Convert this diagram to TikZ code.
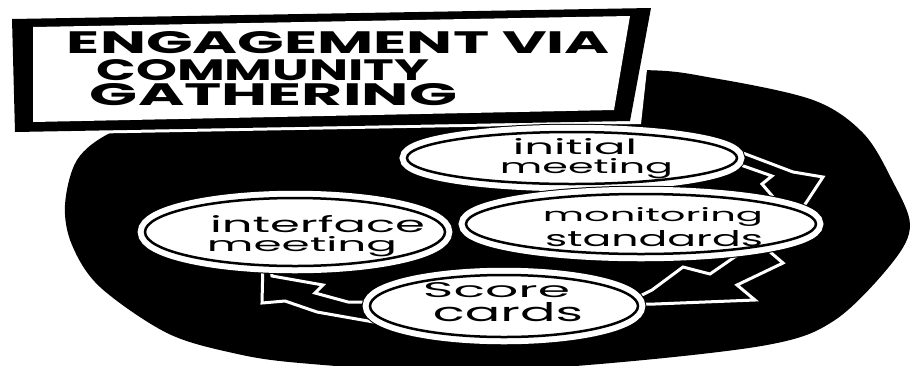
\documentclass[tikz,border=0pt]{standalone}
\usepackage{fontspec}
\setmainfont{Poppins}
\usetikzlibrary{shapes.geometric}
\newcommand\fitline[3]{\resizebox{#1pt}{#2pt}{#3}}
\tikzset{
  blobfill/.style={fill=black},
  bubble/.style={ellipse, inner sep=0pt, outer sep=0pt, fill=white, draw=white,
    line width=6pt, double=black, double distance=2.5pt,
    preaction={draw=black, line width=16.5pt}},
  bolt/.style={fill=black, draw=white, line width=3pt, line join=miter, miter limit=6},
  lbl/.style={anchor=base, inner sep=0pt, outer sep=0pt},
  ttl/.style={anchor=base, inner sep=0pt, outer sep=0pt, font=\bfseries},
}
\begin{document}
\begin{tikzpicture}[x=1pt, y=-1pt]
\useasboundingbox (0,0) rectangle (915,365);
\fill[white] (0,0) rectangle (915,365);
\begin{scope}
\clip (0,0) rectangle (915,365);
% black blob
\fill[blobfill] plot[smooth cycle, tension=0.55] coordinates {
 (65,205) (77,160) (110,133) (170,112) (300,90) (450,76) (637,70) (713,78)
 (813,100) (863,133) (892,180) (910,225) (892,263) (835,320) (767,345)
 (600,364) (450,372) (300,363) (233,353) (167,333) (100,287) (72,245)};
\end{scope}
% title frame
\draw[white, line width=6pt, fill=white] (12,19) -- (651,8) -- (630,121) -- (15,132) -- cycle;
\fill[white] (626,60) -- (648,60) -- (641,124) -- (618,124) -- cycle;
\fill[black] (12,19) -- (651,8) -- (630,121) -- (15,132) -- cycle;
\fill[white] (33,27) -- (630,16) -- (614,110) -- (33,122) -- cycle;
\node[ttl] (t1) at (338.5,53) {\fitline{543}{22}{ENGAGEMENT VIA}};
\node[ttl] (t2) at (263,80) {\fitline{333}{21}{COMMUNITY}};
\node[ttl] (t3) at (273.5,105) {\fitline{367}{22}{GATHERING}};
% lightning arrows
\draw[bolt] (735,150) -- (793,172) -- (823,177) -- (800,212) -- (780,205) -- (762,184) -- (772,176) -- (735,163) -- cycle;
\draw[bolt] (636,298) -- (652,290) -- (683,267) -- (710,274) -- (752,245) -- (762,245) -- (783,263) -- (737,285) -- (755,300) -- (655,304) -- (636,304) -- cycle;
\draw[bolt] (263,262) -- (262,303) -- (285,301) -- (317,312) -- (385,324) -- (380,302) -- (348,302) -- (315,293) -- (323,285) -- (272,276) -- (270,262) -- cycle;
% bubbles
\node[bubble, minimum width=300pt, minimum height=68pt] (intf) at (295,232) {};
\node[bubble, minimum width=330pt, minimum height=52pt] (init) at (572,158) {};
\node[bubble, minimum width=350pt, minimum height=60pt] (mon) at (641,224) {};
\node[bubble, minimum width=268pt, minimum height=62pt] (score) at (504,306) {};
% labels
\node[lbl] (initA) at (575,154) {\fitline{124}{16}{initial}};
\node[lbl] (initB) at (586.5,173) {\fitline{173}{15}{meeting}};
\node[lbl] (monA) at (653,221) {\fitline{220}{14}{monitoring}};
\node[lbl] (monB) at (654,246) {\fitline{218}{16}{standards}};
\node[lbl] (intA) at (317.5,232) {\fitline{215}{17}{interface}};
\node[lbl] (intB) at (302,251) {\fitline{190}{15}{meeting}};
\node[lbl] (scA) at (496.5,297) {\fitline{147}{15}{Score}};
\node[lbl] (scB) at (508,321) {\fitline{150}{19}{cards}};
\end{tikzpicture}
\end{document}
